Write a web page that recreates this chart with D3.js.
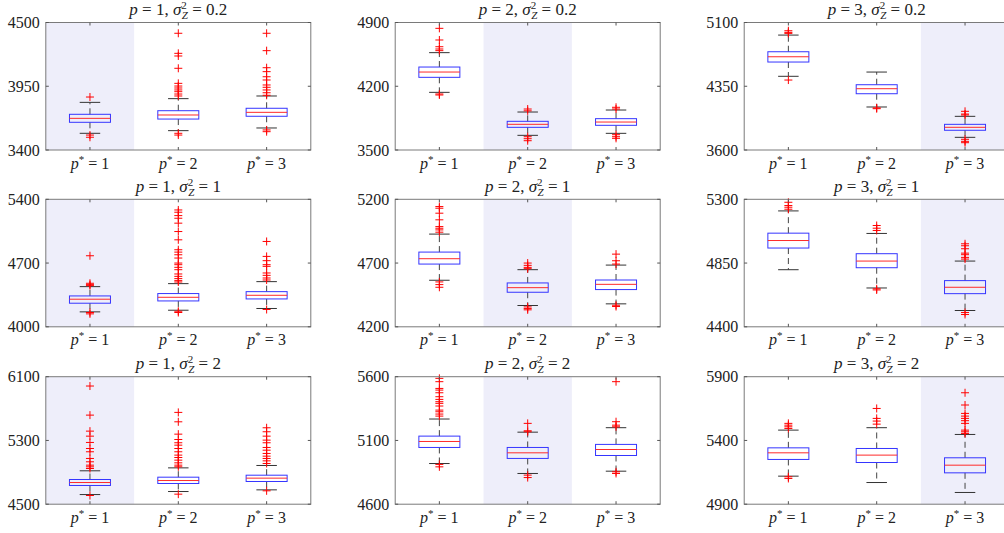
<!DOCTYPE html>
<html>
<head>
<meta charset="utf-8">
<script src="https://cdn.jsdelivr.net/npm/d3@7"></script>
<style>
  body { margin: 0; background: #fff; }
  svg text, svg tspan { font-family: "Liberation Serif" !important; }
</style>
</head>
<body>
<div id="chart"></div>
<script>
// panels are row-major: rows = sigma_Z^2, columns = p
var pValues = [1, 2, 3];
var sigmaLabels = ["0.2", "1", "2"];
var categories = [1, 2, 3]; // p*

var yTicks = [
  [3400, 3950, 4500], [3500, 4200, 4900], [3600, 4350, 5100],
  [4000, 4700, 5400], [4200, 4700, 5200], [4400, 4850, 5300],
  [4500, 5300, 6100], [4600, 5100, 5600], [4900, 5400, 5900]
];

// box statistics per panel, one value per p* category
var q1s = [
  [3639, 3667, 3691], [4298, 3749, 3771], [4635, 4262, 3832],
  [4259, 4284, 4306], [4692, 4471, 4492], [4956, 4817, 4634],
  [4735, 4760, 4785], [5045, 4959, 4982], [5251, 5227, 5146]
];
var medians = [
  [3673, 3702, 3725], [4356, 3782, 3807], [4697, 4321, 3867],
  [4303, 4324, 4346], [4734, 4507, 4533], [5009, 4864, 4679],
  [4772, 4797, 4827], [5092, 5003, 5029], [5303, 5285, 5206]
];
var q3s = [
  [3708, 3739, 3760], [4411, 3815, 3844], [4756, 4368, 3902],
  [4339, 4365, 4386], [4786, 4544, 4567], [5061, 4916, 4726],
  [4810, 4839, 4864], [5134, 5045, 5069], [5342, 5337, 5264]
];
var whiskerLo = [
  [3544, 3567, 3590], [4133, 3661, 3683], [4467, 4106, 3749],
  [4164, 4182, 4201], [4565, 4367, 4380], [4803, 4674, 4515],
  [4621, 4659, 4680], [4919, 4841, 4859], [5120, 5070, 4992]
];
var whiskerHi = [
  [3811, 3843, 3866], [4569, 3917, 3939], [4952, 4517, 3996],
  [4441, 4474, 4496], [4927, 4648, 4684], [5218, 5059, 4864],
  [4919, 4956, 4986], [5268, 5165, 5200], [5481, 5500, 5447]
];
var outliers = [
  [
    [3857, 3529, 3510],
    [4407, 4234, 4211, 4105, 3975, 3952, 3935, 3918, 3903, 3883, 3866, 3544, 3529],
    [4407, 4257, 4110, 4076, 4032, 4004, 3961, 3941, 3918, 3894, 3872, 3573, 3558]
  ],
  [
    [4836, 4708, 4634, 4609, 4591, 4115, 4104],
    [3950, 3930, 3646, 3624, 3602],
    [3969, 3950, 3668, 3646, 3628]
  ],
  [
    [5003, 4984, 4972, 4423],
    [4095, 4086],
    [4055, 4023, 4012, 3726, 3702, 3686]
  ],
  [
    [4780, 4478, 4463, 4452, 4157, 4142],
    [5283, 5258, 5221, 5192, 5138, 5046, 4955, 4846, 4820, 4791, 4755, 4700, 4682,
     4653, 4627, 4580, 4554, 4529, 4507, 4492, 4171, 4157],
    [4937, 4773, 4726, 4682, 4664, 4591, 4565, 4536, 4514, 4190]
  ],
  [
    [5143, 5130, 5091, 5039, 4986, 4973, 4960, 4942, 4552, 4531, 4510],
    [4700, 4682, 4666, 4656, 4356, 4343, 4333],
    [4770, 4718, 4692, 4369, 4359]
  ],
  [
    [5279, 5256, 5244, 5230],
    [5115, 5096, 5080, 4668, 4660],
    [4986, 4972, 4951, 4920, 4909, 4890, 4878, 4501, 4487]
  ],
  [
    [5983, 5618, 5417, 5354, 5275, 5199, 5158, 5074, 5032, 4990, 4969, 4948, 4609],
    [5652, 5534, 5379, 5312, 5271, 5241, 5199, 5158, 5116, 5086, 5053, 5019, 4990, 4969, 4626],
    [5459, 5409, 5354, 5304, 5271, 5212, 5178, 5137, 5103, 5074, 5044, 5011, 4668]
  ],
  [
    [5587, 5561, 5508, 5495, 5474, 5443, 5422, 5404, 5391, 5370, 5338, 5325, 5307, 5291, 4912, 4893],
    [5234, 5176, 5168, 4828, 4809],
    [5561, 5247, 5220, 5207, 4854, 4841]
  ],
  [
    [5534, 5520, 5507, 5494, 5115, 5102],
    [5651, 5573, 5552, 5528],
    [5774, 5678, 5612, 5591, 5573, 5555, 5534, 5481, 5468, 5455]
  ]
];

// layout
var W = 1004, H = 533;
var colLeft = [45.8, 395.2, 744.2];
var rowTop = [22.5, 199.3, 376.7];
var pw = 265, ph = 127.5;
var boxW = 41, capW = 20.5, plusR = 4;
var fontName = "Liberation Serif";

var svg = d3.select("#chart").append("svg")
  .attr("width", W).attr("height", H);
svg.append("rect").attr("width", W).attr("height", H).attr("fill", "#fff");

function addMath(sel, parts) {
  parts.forEach(function (p) {
    var t = sel.append("tspan").text(p.t);
    if (p.i) t.attr("font-style", "italic");
    if (p.dy) t.attr("dy", p.dy);
    if (p.dx) t.attr("dx", p.dx);
    if (p.fs) t.attr("font-size", p.fs);
  });
}

for (var r = 0; r < 3; r++) {
  for (var c = 0; c < 3; c++) {
    var k = r * 3 + c;
    var dom = [yTicks[k][0], yTicks[k][2]];
    var x = d3.scaleLinear().domain([0.5, 3.5]).range([0, pw]);
    var y = d3.scaleLinear().domain(dom).range([ph, 0]);

    var g = svg.append("g")
      .attr("transform", "translate(" + colLeft[c] + "," + rowTop[r] + ")");

    // highlight the true p
    g.append("rect")
      .attr("x", x(pValues[c] - 0.5))
      .attr("y", 0)
      .attr("width", x(pValues[c] + 0.5) - x(pValues[c] - 0.5))
      .attr("height", ph)
      .attr("fill", "#eeeefa");

    // boxes
    categories.forEach(function (cat, i) {
      var cx = x(cat);
      // whiskers (dashed)
      g.append("line")
        .attr("x1", cx).attr("x2", cx)
        .attr("y1", y(q3s[k][i])).attr("y2", y(whiskerHi[k][i]))
        .attr("stroke", "#444").attr("stroke-width", 1)
        .attr("stroke-dasharray", "6,4");
      g.append("line")
        .attr("x1", cx).attr("x2", cx)
        .attr("y1", y(q1s[k][i])).attr("y2", y(whiskerLo[k][i]))
        .attr("stroke", "#444").attr("stroke-width", 1)
        .attr("stroke-dasharray", "6,4");
      // caps
      [whiskerHi[k][i], whiskerLo[k][i]].forEach(function (v) {
        g.append("line")
          .attr("x1", cx - capW / 2).attr("x2", cx + capW / 2)
          .attr("y1", y(v)).attr("y2", y(v))
          .attr("stroke", "#333").attr("stroke-width", 1);
      });
      // box
      g.append("rect")
        .attr("x", cx - boxW / 2)
        .attr("y", y(q3s[k][i]))
        .attr("width", boxW)
        .attr("height", y(q1s[k][i]) - y(q3s[k][i]))
        .attr("fill", "none")
        .attr("stroke", "#3535ff").attr("stroke-width", 1);
      // median
      g.append("line")
        .attr("x1", cx - boxW / 2).attr("x2", cx + boxW / 2)
        .attr("y1", y(medians[k][i])).attr("y2", y(medians[k][i]))
        .attr("stroke", "#ff2a2a").attr("stroke-width", 1);
      // outliers
      outliers[k][i].forEach(function (v) {
        var py = y(v);
        g.append("path")
          .attr("d", "M" + (cx - plusR) + "," + py + "H" + (cx + plusR) +
                     "M" + cx + "," + (py - plusR) + "V" + (py + plusR))
          .attr("stroke", "#ff0000").attr("stroke-width", 1)
          .attr("fill", "none");
      });
    });

    // frame
    g.append("rect")
      .attr("x", 0).attr("y", 0).attr("width", pw).attr("height", ph)
      .attr("fill", "none").attr("stroke", "#7a7a7a").attr("stroke-width", 1);

    // ticks (inward, both sides)
    categories.forEach(function (cat) {
      g.append("line").attr("x1", x(cat)).attr("x2", x(cat))
        .attr("y1", ph).attr("y2", ph - 3).attr("stroke", "#555");
      g.append("line").attr("x1", x(cat)).attr("x2", x(cat))
        .attr("y1", 0).attr("y2", 3).attr("stroke", "#555");
      var lbl = g.append("text")
        .attr("x", x(cat)).attr("y", ph + 18.5)
        .attr("text-anchor", "middle")
        .attr("fill", "#222")
        .style("font-family", fontName)
        .style("font-size", "16px");
      addMath(lbl, [
        { t: "p", i: true },
        { t: "*", dy: -6, fs: "11px" },
        { t: " = " + cat, dy: 6 }
      ]);
    });
    yTicks[k].forEach(function (v) {
      g.append("line").attr("x1", 0).attr("x2", 3)
        .attr("y1", y(v)).attr("y2", y(v)).attr("stroke", "#555");
      g.append("line").attr("x1", pw).attr("x2", pw - 3)
        .attr("y1", y(v)).attr("y2", y(v)).attr("stroke", "#555");
      g.append("text")
        .attr("x", -6).attr("y", y(v))
        .attr("dy", "0.35em")
        .attr("text-anchor", "end")
        .attr("fill", "#222")
        .style("font-family", fontName)
        .style("font-size", "16px")
        .text(v);
    });

    // title
    var ttl = g.append("text")
      .attr("x", pw / 2).attr("y", -7.5)
      .attr("text-anchor", "middle")
      .attr("fill", "#222")
      .style("font-family", fontName)
      .style("font-size", "17px");
    addMath(ttl, [
      { t: "p", i: true },
      { t: " = " + pValues[c] + ", " },
      { t: "σ", i: true },
      { t: "2", dy: -6, fs: "11px" },
      { t: "Z", i: true, dy: 10, dx: -5, fs: "11px" },
      { t: " = " + sigmaLabels[r], dy: -4 }
    ]);
  }
}
</script>
</body>
</html>
